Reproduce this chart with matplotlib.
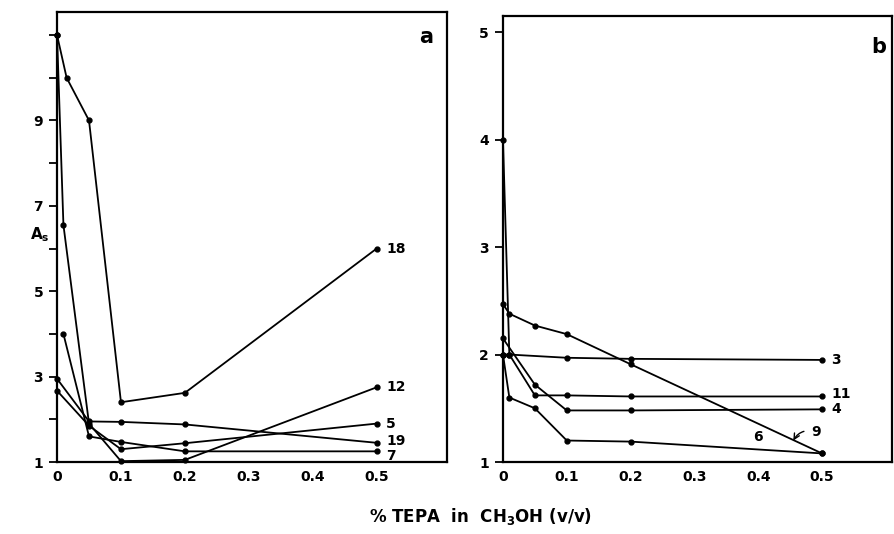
import matplotlib
matplotlib.use("Agg")
import matplotlib.pyplot as plt

plt.rcParams['font.family'] = ['DejaVu Sans']
plt.rcParams['font.weight'] = 'bold'

# ---- Panel a data ----
a_names = ["18", "12", "19", "5", "7"]
a_x = {
    "18": [0.0, 0.015, 0.05, 0.1, 0.2, 0.5],
    "12": [0.0, 0.01, 0.05, 0.1, 0.2, 0.5],
    "19": [0.0, 0.05, 0.1, 0.2, 0.5],
    "5":  [0.0, 0.05, 0.1, 0.2, 0.5],
    "7":  [0.01, 0.05, 0.1, 0.2, 0.5],
}
a_y = {
    "18": [11.0, 10.0, 9.0, 2.4, 2.62, 6.0],
    "12": [11.0, 6.55, 1.9, 1.02, 1.05, 2.75],
    "19": [2.95, 1.95, 1.94, 1.88, 1.45],
    "5":  [2.67, 1.85, 1.3, 1.44, 1.9],
    "7":  [4.0, 1.6, 1.47, 1.25, 1.25],
}

# ---- Panel b data ----
b_names = ["3", "9", "6", "11", "4"]
b_x = {
    "3":  [0.0, 0.01, 0.1, 0.2, 0.5],
    "9":  [0.0, 0.01, 0.05, 0.1, 0.2, 0.5],
    "6":  [0.0, 0.01, 0.05, 0.1, 0.2, 0.5],
    "11": [0.0, 0.01, 0.05, 0.1, 0.2, 0.5],
    "4":  [0.0, 0.05, 0.1, 0.2, 0.5],
}
b_y = {
    "3":  [2.0, 2.0, 1.97, 1.96, 1.95],
    "9":  [2.47, 2.38, 2.27, 2.19, 1.91, 1.08],
    "6":  [2.0, 1.6, 1.5, 1.2, 1.19, 1.08],
    "11": [4.0, 2.0, 1.62, 1.62, 1.61, 1.61],
    "4":  [2.15, 1.72, 1.48, 1.48, 1.49],
}

a_yticks = [1, 3, 5, 7, 9]
b_yticks = [1, 2, 3, 4, 5]
xticks = [0, 0.1, 0.2, 0.3, 0.4, 0.5]
xticklabels = ["0", "0.1", "0.2", "0.3", "0.4", "0.5"]

fig = plt.figure(figsize=(8.94, 5.34), dpi=100)
axa = fig.add_axes([0.0638, 0.1348, 0.4362, 0.8427])
axb = fig.add_axes([0.5626, 0.1348, 0.4354, 0.8352])

lw = 1.3
for ax in (axa, axb):
    for s in ax.spines.values():
        s.set_linewidth(1.6)
    ax.set_xlim(0, 0.61)
    ax.set_xticks(xticks)
    ax.set_xticklabels(xticklabels, fontsize=10, fontweight='bold')
    ax.tick_params(axis='x', length=0, pad=6)
    ax.tick_params(axis='y', length=6, width=1.3, direction='out', labelsize=10, pad=4)

for n in a_names:
    axa.plot(a_x[n], a_y[n], color='black', lw=lw, marker='o', ms=3.5, clip_on=False)
for n in b_names:
    axb.plot(b_x[n], b_y[n], color='black', lw=lw, marker='o', ms=3.5, clip_on=False)

axa.set_ylim(1, 11.54)
axa.set_yticks(list(range(1, 12)))
axa.set_yticklabels([str(v) if v in a_yticks else "" for v in range(1, 12)], fontweight='bold')

axb.set_ylim(1, 5.15)
axb.set_yticks(b_yticks)
axb.set_yticklabels([str(v) for v in b_yticks], fontweight='bold')

# curve labels panel a
a_label_dy = {"18": 0.0, "12": 0.0, "19": 0.05, "5": 0.0, "7": -0.12}
for n in a_names:
    axa.text(0.515, a_y[n][-1] + a_label_dy[n], n, fontsize=10, fontweight='bold',
             va='center', ha='left')

# curve labels panel b
axb.text(0.515, 1.95, "3", fontsize=10, fontweight='bold', va='center', ha='left')
axb.text(0.515, 1.63, "11", fontsize=10, fontweight='bold', va='center', ha='left')
axb.text(0.515, 1.49, "4", fontsize=10, fontweight='bold', va='center', ha='left')
axb.text(0.40, 1.23, "6", fontsize=10, fontweight='bold', va='center', ha='center')
axb.annotate("9", xy=(0.455, 1.2), xytext=(0.49, 1.28), fontsize=10, fontweight='bold',
             va='center', ha='center',
             arrowprops=dict(arrowstyle='->', lw=1.0, color='black',
                             connectionstyle='arc3,rad=0.4', shrinkA=3, shrinkB=0))

axa.text(0.965, 0.945, "a", transform=axa.transAxes, fontsize=15, fontweight='bold', ha='right', va='center')
axb.text(0.985, 0.93, "b", transform=axb.transAxes, fontsize=15, fontweight='bold', ha='right', va='center')

fig.text(0.045, 0.56, "A$_\\mathbf{s}$", fontsize=11, fontweight='bold', ha='center', va='center')
fig.text(0.537, 0.033, "% TEPA  in  CH$_\\mathbf{3}$OH (v/v)", fontsize=12, fontweight='bold',
         ha='center', va='center')

fig.savefig("out.png", dpi=100)
